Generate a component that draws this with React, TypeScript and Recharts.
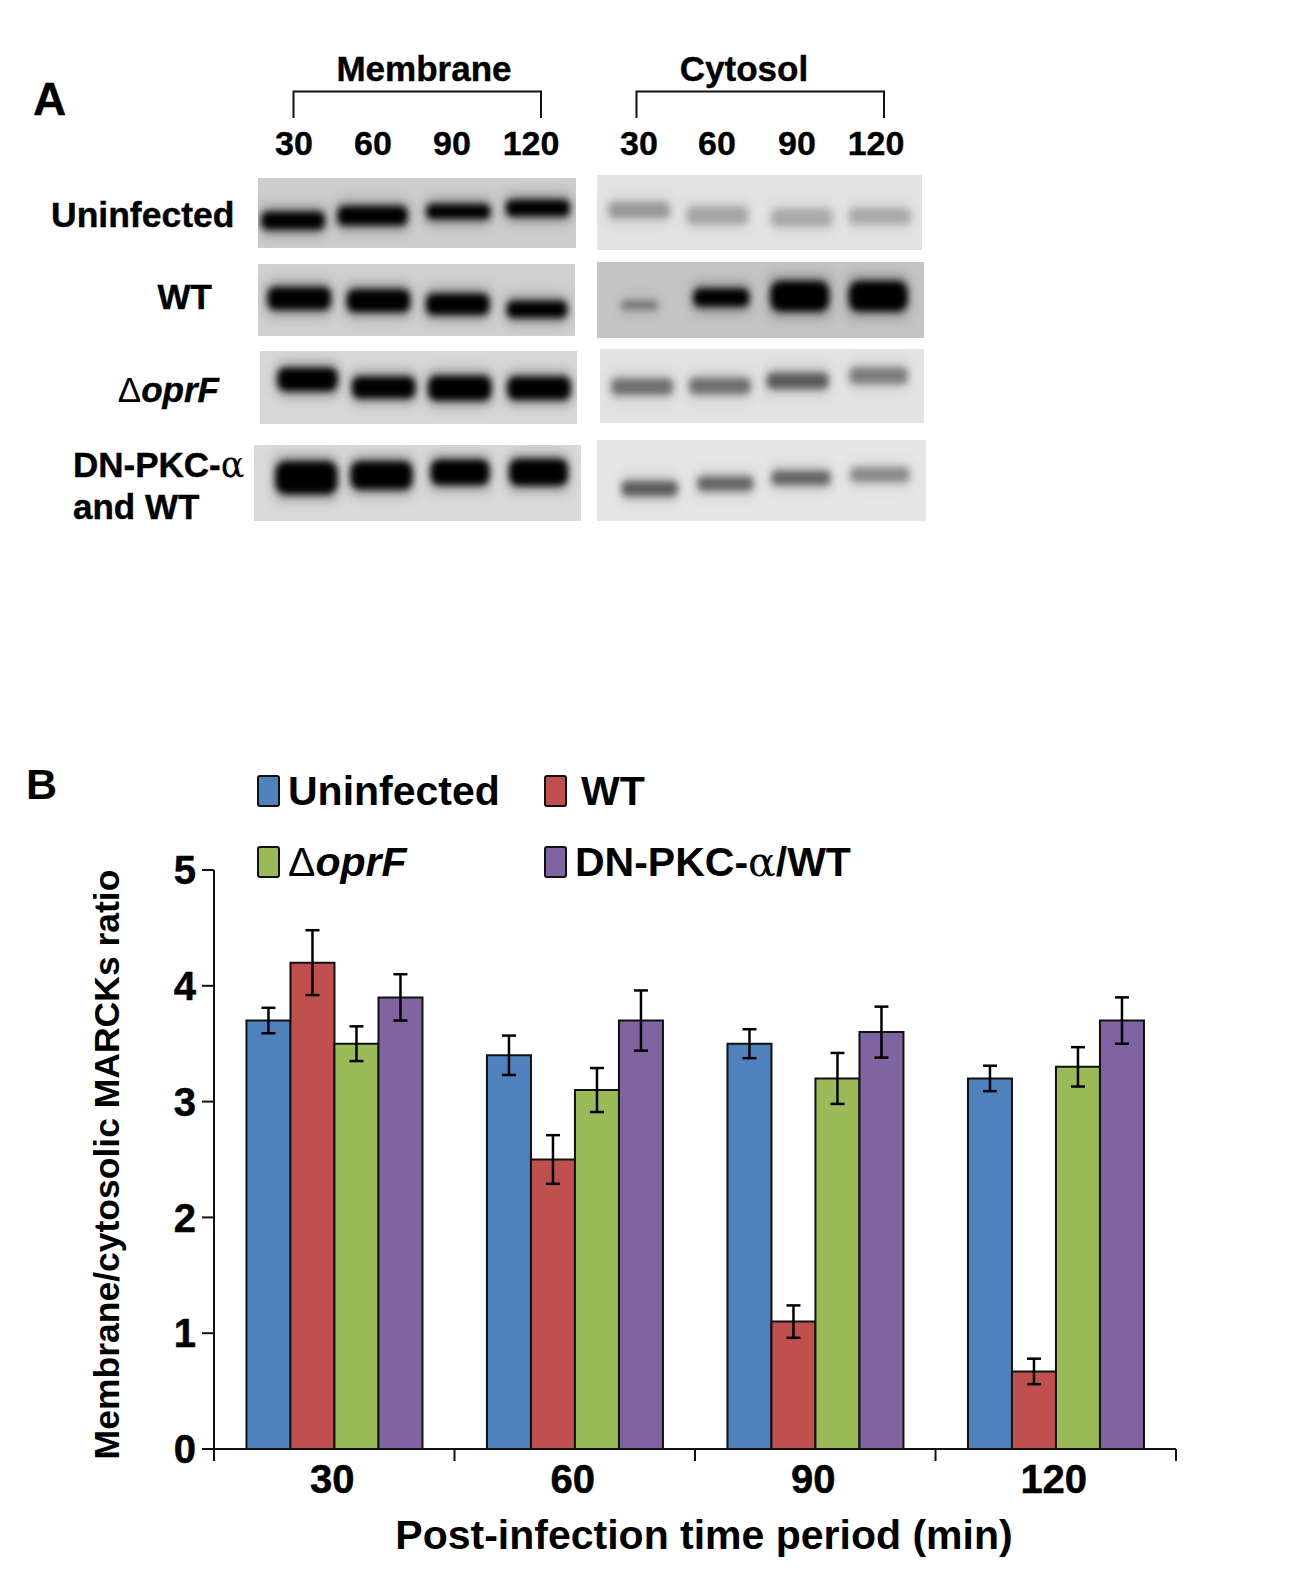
import React from 'react';
import { BarChart, Bar, XAxis, YAxis, ErrorBar, Label, ScatterChart, Scatter } from 'recharts';

// panel B values
const timePoints = ['30', '60', '90', '120'];
const uninfected = [3.7, 3.4, 3.5, 3.2];
const wt = [4.2, 2.5, 1.1, 0.67];
const oprF = [3.5, 3.1, 3.2, 3.3];
const dnPkc = [3.9, 3.7, 3.6, 3.7];
const uninfectedErr = [0.11, 0.17, 0.125, 0.11];
const wtErr = [0.28, 0.21, 0.14, 0.11];
const oprFErr = [0.15, 0.19, 0.22, 0.17];
const dnPkcErr = [0.2, 0.26, 0.22, 0.2];
const yTicks = [0, 1, 2, 3, 4, 5];

const barData = timePoints.map((t, i) => ({
  time: t,
  uninfected: uninfected[i],
  wt: wt[i],
  oprF: oprF[i],
  dnPkc: dnPkc[i],
  uninfectedErr: uninfectedErr[i],
  wtErr: wtErr[i],
  oprFErr: oprFErr[i],
  dnPkcErr: dnPkcErr[i],
}));

// panel A band readings, all in percent of the blot: lane centre, migration, band width, band thickness, plus darkness 0-1
const blots = [
  { box: [258, 178, 318, 70], bg: '#cdcdcd', lanes: [11, 36, 63, 88], migration: [61, 54, 48, 43], widths: [20, 22, 20, 20], thick: [26, 28, 22, 24], dark: [1, 1, 1, 1] },
  { box: [597, 175, 325, 75], bg: '#e3e3e3', lanes: [13, 37, 63, 87], migration: [47, 54, 57, 55], widths: [19, 19, 19, 19], thick: [22, 24, 24, 22], dark: [0.28, 0.23, 0.21, 0.21] },
  { box: [258, 264, 317, 72], bg: '#d0d0d0', lanes: [13, 38, 63, 88], migration: [48, 51, 56, 63], widths: [20, 20, 20, 19], thick: [32, 32, 30, 24], dark: [1, 1, 1, 1] },
  { box: [597, 262, 327, 76], bg: '#c4c4c4', lanes: [13, 38, 62, 86], migration: [57, 47, 45, 45], widths: [11, 17, 18, 18], thick: [8, 24, 40, 40], dark: [0.45, 1, 1, 1] },
  { box: [260, 351, 317, 73], bg: '#d8d8d8', lanes: [15, 39, 63, 88], migration: [39, 50, 51, 51], widths: [19, 20, 20, 20], thick: [32, 30, 34, 32], dark: [1, 1, 1, 1] },
  { box: [600, 349, 324, 74], bg: '#e3e3e3', lanes: [13, 37, 61, 86], migration: [51, 50, 43, 36], widths: [19, 19, 19, 18], thick: [22, 22, 22, 22], dark: [0.45, 0.45, 0.55, 0.4] },
  { box: [254, 445, 327, 76], bg: '#dadada', lanes: [16, 39, 63, 87], migration: [43, 40, 36, 36], widths: [19, 19, 18, 18], thick: [44, 38, 34, 36], dark: [1, 1, 1, 1] },
  { box: [597, 440, 329, 81], bg: '#e6e6e6', lanes: [16, 39, 62, 86], migration: [60, 54, 47, 43], widths: [17, 17, 18, 18], thick: [18, 18, 18, 18], dark: [0.55, 0.5, 0.5, 0.35] },
];

const legendItems = [
  { name: 'Uninfected', color: '#4f81bd', italic: '' },
  { name: 'WT', color: '#c0504d', italic: '' },
  { name: 'Δ', color: '#9bbb59', italic: 'oprF' },
  { name: 'DN-PKC-', color: '#8064a2', italic: '' },
];

const font = '"Liberation Sans", Arial, sans-serif';
const plotLeft = 214;
const plotRight = 1176;
const plotTop = 870;
const plotBottom = 1449;
const band = (plotRight - plotLeft) / timePoints.length;

const Blot = ({ blot }: { blot: (typeof blots)[number] }) => {
  const [left, top, w, h] = blot.box;
  const data = blot.lanes.map((lane, i) => ({
    lane,
    migration: blot.migration[i],
    bandWidth: blot.widths[i],
    thick: blot.thick[i],
    dark: blot.dark[i],
  }));
  const shape = (p: any) => {
    const bw = (p.payload.bandWidth / 100) * w;
    const bh = (p.payload.thick / 100) * h;
    return (
      <g>
        <rect
          x={p.cx - bw / 2 - 1}
          y={p.cy - bh / 2 - 7}
          width={bw + 2}
          height={bh + 14}
          rx={6}
          fill="#000"
          fillOpacity={p.payload.dark * 0.22}
          style={{ filter: 'blur(6px)' }}
        />
        <rect
          x={p.cx - bw / 2}
          y={p.cy - bh / 2}
          width={bw}
          height={bh}
          rx={bh / 3}
          fill="#000"
          fillOpacity={p.payload.dark}
          style={{ filter: 'blur(3.5px)' }}
        />
      </g>
    );
  };
  return (
    <div style={{ position: 'absolute', left, top, width: w, height: h, background: blot.bg, overflow: 'hidden' }}>
      <ScatterChart width={w} height={h} margin={{ top: 0, right: 0, bottom: 0, left: 0 }}>
        <XAxis type="number" dataKey="lane" domain={[0, 100]} hide />
        <YAxis type="number" dataKey="migration" domain={[0, 100]} reversed hide />
        <Scatter data={data} shape={shape} isAnimationActive={false} />
      </ScatterChart>
    </div>
  );
};

const TimeTick = (props: any) => {
  const { x, payload, index } = props;
  const edge = (px: number) => <line x1={px} x2={px} y1={plotBottom} y2={plotBottom + 12} stroke="#111" strokeWidth={2} />;
  return (
    <g>
      {edge(x - band / 2)}
      {index === timePoints.length - 1 && edge(x + band / 2)}
      <text x={x - 2} y={plotBottom + 44} textAnchor="middle" fontFamily={font} fontWeight={700} fontSize={40} fill="#000" stroke="#000" strokeWidth={0.5}>
        {payload.value}
      </text>
    </g>
  );
};

const ChartLegend = () => (
  <div style={{ position: 'absolute', left: 257, top: 771, width: 640, height: 120, fontFamily: font, fontWeight: 700, fontSize: 41, color: '#000' }}>
    {legendItems.map((item, i) => {
      const col = i % 2;
      const row = Math.floor(i / 2);
      return (
        <div key={i} style={{ position: 'absolute', left: col * 287, top: row * 71, height: 40, display: 'flex', alignItems: 'center', whiteSpace: 'nowrap', lineHeight: '40px' }}>
          <span style={{ display: 'inline-block', width: 19, height: 28, background: item.color, border: '2.500px solid #111', borderRadius: 3, marginRight: col === 1 && row === 0 ? 14 : 8 }} />
          {item.italic ? (
            <span>
              <span style={{ fontWeight: 400 }}>{item.name}</span>
              <i>{item.italic}</i>
            </span>
          ) : row === 1 ? (
            <span>
              {item.name}
              <span style={{ fontFamily: '"DejaVu Serif", serif', fontWeight: 400 }}>α</span>/WT
            </span>
          ) : (
            <span>{item.name}</span>
          )}
        </div>
      );
    })}
  </div>
);

const PanelText = () => (
  <svg width={1300} height={560} style={{ position: 'absolute', left: 0, top: 0 }} fontFamily={font} fontWeight={700} fill="#000" stroke="#000" strokeWidth={0.4}>
    <text x={33} y={115} fontSize={46}>A</text>
    <text x={424} y={81} fontSize={35} textAnchor="middle">Membrane</text>
    <text x={744} y={81} fontSize={35} textAnchor="middle">Cytosol</text>
    <path d="M293.500 118V91.500H541V118" fill="none" stroke="#111" strokeWidth={2} />
    <path d="M636.500 118V91.500H884V118" fill="none" stroke="#111" strokeWidth={2} />
    {timePoints.map((t, i) => (
      <text key={'m' + t} x={[294, 373, 452, 531][i]} y={155} fontSize={34} textAnchor="middle">{t}</text>
    ))}
    {timePoints.map((t, i) => (
      <text key={'c' + t} x={[639, 717, 797, 876][i]} y={155} fontSize={34} textAnchor="middle">{t}</text>
    ))}
    <text x={51} y={227} fontSize={35.500}>Uninfected</text>
    <text x={212} y={309} fontSize={35} textAnchor="end">WT</text>
    <text x={219} y={402} fontSize={35} textAnchor="end">
      <tspan fontWeight={400} strokeWidth={0}>Δ</tspan>
      <tspan fontStyle="italic">oprF</tspan>
    </text>
    <text x={73} y={477} fontSize={35}>
      DN-PKC-<tspan fontFamily='"DejaVu Serif", serif' fontWeight={400} strokeWidth={0}>α</tspan>
    </text>
    <text x={73} y={519} fontSize={35}>and WT</text>
  </svg>
);

const App = () => {
  return (
    <div style={{ position: 'absolute', left: 0, top: 0, width: 1300, height: 1589, background: '#fff', overflow: 'hidden' }}>
      <PanelText />
      {blots.map((b, i) => (
        <Blot key={i} blot={b} />
      ))}
      <svg width={80} height={60} style={{ position: 'absolute', left: 20, top: 758 }}>
        <text x={6} y={41} fontFamily={font} fontWeight={700} fontSize={43} fill="#000">B</text>
      </svg>
      <div style={{ position: 'absolute', left: 0, top: 0 }}>
        <BarChart
          width={1300}
          height={1589}
          data={barData}
          barGap={0}
          barCategoryGap="13.500%"
          margin={{ top: plotTop, right: 1300 - plotRight, bottom: 0, left: 0 }}
        >
          <XAxis
            dataKey="time"
            height={1589 - plotBottom}
            tick={<TimeTick />}
            tickLine={false}
            axisLine={{ stroke: '#111', strokeWidth: 2 }}
            interval={0}
          >
            <Label
              content={() => (
                <text x={704} y={1549} textAnchor="middle" fontFamily={font} fontWeight={700} fontSize={41} fill="#000">
                  Post-infection time period (min)
                </text>
              )}
            />
          </XAxis>
          <YAxis
            width={plotLeft}
            domain={[0, 5]}
            ticks={yTicks}
            tick={{ fill: '#000', fontSize: 40, fontWeight: 700, fontFamily: font, stroke: '#000', strokeWidth: 0.5 }}
            tickSize={12}
            tickMargin={6}
            tickLine={{ stroke: '#111', strokeWidth: 2 }}
            axisLine={{ stroke: '#111', strokeWidth: 2 }}
          >
            <Label
              content={() => (
                <text
                  transform={`translate(119 ${(plotTop + plotBottom) / 2 + 5}) rotate(-90)`}
                  textAnchor="middle"
                  fontFamily={font}
                  fontWeight={700}
                  fontSize={35.5}
                  fill="#000"
                >
                  Membrane/cytosolic MARCKs ratio
                </text>
              )}
            />
          </YAxis>
          <Bar dataKey="uninfected" fill={legendItems[0].color} stroke="#111" strokeWidth={2} isAnimationActive={false}>
            <ErrorBar dataKey="uninfectedErr" direction="y" width={7} stroke="#000" strokeWidth={2.5} />
          </Bar>
          <Bar dataKey="wt" fill={legendItems[1].color} stroke="#111" strokeWidth={2} isAnimationActive={false}>
            <ErrorBar dataKey="wtErr" direction="y" width={7} stroke="#000" strokeWidth={2.5} />
          </Bar>
          <Bar dataKey="oprF" fill={legendItems[2].color} stroke="#111" strokeWidth={2} isAnimationActive={false}>
            <ErrorBar dataKey="oprFErr" direction="y" width={7} stroke="#000" strokeWidth={2.5} />
          </Bar>
          <Bar dataKey="dnPkc" fill={legendItems[3].color} stroke="#111" strokeWidth={2} isAnimationActive={false}>
            <ErrorBar dataKey="dnPkcErr" direction="y" width={7} stroke="#000" strokeWidth={2.5} />
          </Bar>
        </BarChart>
      </div>
      <ChartLegend />
    </div>
  );
};

export default App;
